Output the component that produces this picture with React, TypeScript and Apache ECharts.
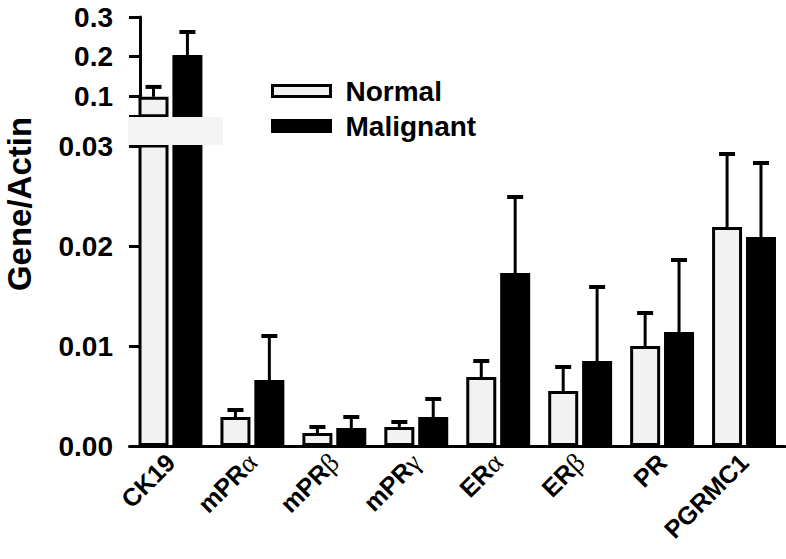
import React, { useEffect, useRef } from "react";
import * as echarts from "echarts";

const categories = ["CK19", "mPRα", "mPRβ", "mPRγ", "ERα", "ERβ", "PR", "PGRMC1"];
const normalValues = [0.098, 0.0029, 0.0013, 0.0019, 0.0069, 0.0055, 0.01, 0.0219];
const normalErrors = [0.025, 0.0007, 0.0006, 0.0005, 0.0016, 0.0024, 0.0033, 0.0073];
const malignantValues = [0.204, 0.0066, 0.0018, 0.0029, 0.0173, 0.0085, 0.0114, 0.0209];
const malignantErrors = [0.058, 0.0044, 0.0011, 0.0018, 0.0076, 0.0074, 0.0072, 0.0074];

const lowerMin = 0;
const lowerMax = 0.03;
const lowerInterval = 0.01;
const upperMin = 0.05;
const upperMax = 0.3;
const upperTickValues = [0.05, 0.1, 0.2, 0.3];
const upperLabelValues = [0.1, 0.2, 0.3];

const FONT = "'Liberation Sans', Arial, Helvetica, sans-serif";
const SERIF = "'Liberation Serif', 'DejaVu Serif', serif";
const BAR_W = 30;
const BAR_GAP = 0.13;
const HALF = (BAR_W + BAR_W * BAR_GAP) / 2;

function errorSeries(gridIndex: number, values: number[], errs: number[], sign: number, keep: (v: number, e: number) => boolean) {
  return {
    type: "custom",
    xAxisIndex: gridIndex,
    yAxisIndex: gridIndex,
    silent: true,
    z: 5,
    data: values.map((v, i) => [i, v, errs[i]]).filter((d) => keep(d[1], d[2])),
    renderItem: (params: any, api: any) => {
      const i = api.value(0);
      const v = api.value(1);
      const e = api.value(2);
      const p0 = api.coord([i, v]);
      const p1 = api.coord([i, v + e]);
      const x = p0[0] + sign * HALF;
      return {
        type: "group",
        children: [
          { type: "line", shape: { x1: x, y1: p0[1], x2: x, y2: p1[1] }, style: { stroke: "#000", lineWidth: 3 } },
          { type: "line", shape: { x1: x - 8, y1: p1[1], x2: x + 8, y2: p1[1] }, style: { stroke: "#000", lineWidth: 4 } },
        ],
      };
    },
  };
}

function labelFormatter(value: string) {
  const m = value.match(/^(.*?)([α-ω]?)$/);
  if (m && m[2]) return `{b|${m[1]}}{g|${m[2]}}`;
  return `{b|${value}}`;
}

export default function App() {
  const ref = useRef<HTMLDivElement>(null);
  useEffect(() => {
    document.body.style.margin = "0";
    const chart = echarts.init(ref.current!, null, { renderer: "svg" });
    const normalStyle = { color: "#f2f2f2", borderColor: "#000", borderWidth: 3 };
    const malignantStyle = { color: "#000", borderColor: "#000", borderWidth: 3 };
    const yLabelStyle = { fontFamily: FONT, fontWeight: "bold", fontSize: 28, color: "#000", margin: 27 };
    const axisLineStyle = { show: true, lineStyle: { color: "#000", width: 3 } };
    const tickStyle = { show: true, length: 11, lineStyle: { color: "#000", width: 3 } };
    const option: any = {
      animation: false,
      backgroundColor: "#fff",
      grid: [
        { left: 129.5, right: 1, top: 17, height: 98.75, containLabel: false },
        { left: 129.5, right: 1, top: 146, height: 300, containLabel: false },
      ],
      xAxis: [
        { type: "category", gridIndex: 0, data: categories, show: false },
        {
          type: "category",
          gridIndex: 1,
          data: categories,
          axisLine: axisLineStyle,
          axisTick: { show: false },
          axisLabel: {
            rotate: 45,
            margin: 12,
            interval: 0,
            formatter: labelFormatter,
            rich: {
              b: { fontFamily: FONT, fontWeight: "bold", fontSize: 25, color: "#000" },
              g: { fontFamily: SERIF, fontWeight: "normal", fontSize: 27, color: "#000" },
            },
          },
        },
      ],
      yAxis: [
        {
          type: "value",
          gridIndex: 0,
          min: upperMin,
          max: upperMax,
          offset: -10.5,
          splitLine: { show: false },
          axisLine: axisLineStyle,
          axisTick: { ...tickStyle, customValues: upperTickValues },
          axisLabel: { ...yLabelStyle, customValues: upperLabelValues, formatter: (v: number) => v.toFixed(1) },
        },
        {
          type: "value",
          gridIndex: 1,
          min: lowerMin,
          max: lowerMax,
          interval: lowerInterval,
          offset: -10.5,
          splitLine: { show: false },
          axisLine: axisLineStyle,
          axisTick: tickStyle,
          axisLabel: { ...yLabelStyle, formatter: (v: number) => v.toFixed(2) },
        },
      ],
      legend: {
        orient: "vertical",
        left: 271,
        top: 77,
        padding: 0,
        itemWidth: 58,
        itemHeight: 11,
        itemGap: 7,
        selectedMode: false,
        textStyle: { fontFamily: FONT, fontWeight: "bold", fontSize: 28, color: "#000", padding: [0, 0, 0, 10] },
        data: [
          { name: "Normal", icon: "rect", itemStyle: normalStyle },
          { name: "Malignant", icon: "rect", itemStyle: malignantStyle },
        ],
      },
      series: [
        {
          name: "Normal",
          type: "bar",
          xAxisIndex: 0,
          yAxisIndex: 0,
          barWidth: BAR_W,
          barGap: `${BAR_GAP * 100}%`,
          clip: true,
          itemStyle: normalStyle,
          data: normalValues.map((v) => (v > upperMin ? v : "-")),
        },
        {
          name: "Malignant",
          type: "bar",
          xAxisIndex: 0,
          yAxisIndex: 0,
          barWidth: BAR_W,
          barGap: `${BAR_GAP * 100}%`,
          clip: true,
          itemStyle: malignantStyle,
          data: malignantValues.map((v) => (v > upperMin ? v : "-")),
        },
        {
          name: "Normal",
          type: "bar",
          xAxisIndex: 1,
          yAxisIndex: 1,
          barWidth: BAR_W,
          barGap: `${BAR_GAP * 100}%`,
          clip: true,
          itemStyle: normalStyle,
          data: normalValues,
        },
        {
          name: "Malignant",
          type: "bar",
          xAxisIndex: 1,
          yAxisIndex: 1,
          barWidth: BAR_W,
          barGap: `${BAR_GAP * 100}%`,
          clip: true,
          itemStyle: malignantStyle,
          data: malignantValues,
        },
        errorSeries(0, normalValues, normalErrors, -1, (v) => v > upperMin),
        errorSeries(0, malignantValues, malignantErrors, 1, (v) => v > upperMin),
        errorSeries(1, normalValues, normalErrors, -1, (v, e) => v + e <= lowerMax),
        errorSeries(1, malignantValues, malignantErrors, 1, (v, e) => v + e <= lowerMax),
      ],
      graphic: [
        {
          type: "rect",
          z: 100,
          shape: { x: 128, y: 117, width: 95, height: 28 },
          style: { fill: "#f4f4f4" },
        },
        {
          type: "text",
          x: 19,
          y: 204,
          rotation: Math.PI / 2,
          z: 100,
          style: {
            text: "Gene/Actin",
            fontFamily: FONT,
            fontWeight: "bold",
            fontSize: 33,
            fill: "#000",
            align: "center",
            verticalAlign: "middle",
          },
        },
      ],
    };
    chart.setOption(option);
    return () => chart.dispose();
  }, []);
  return <div ref={ref} style={{ width: 786, height: 559 }} />;
}
